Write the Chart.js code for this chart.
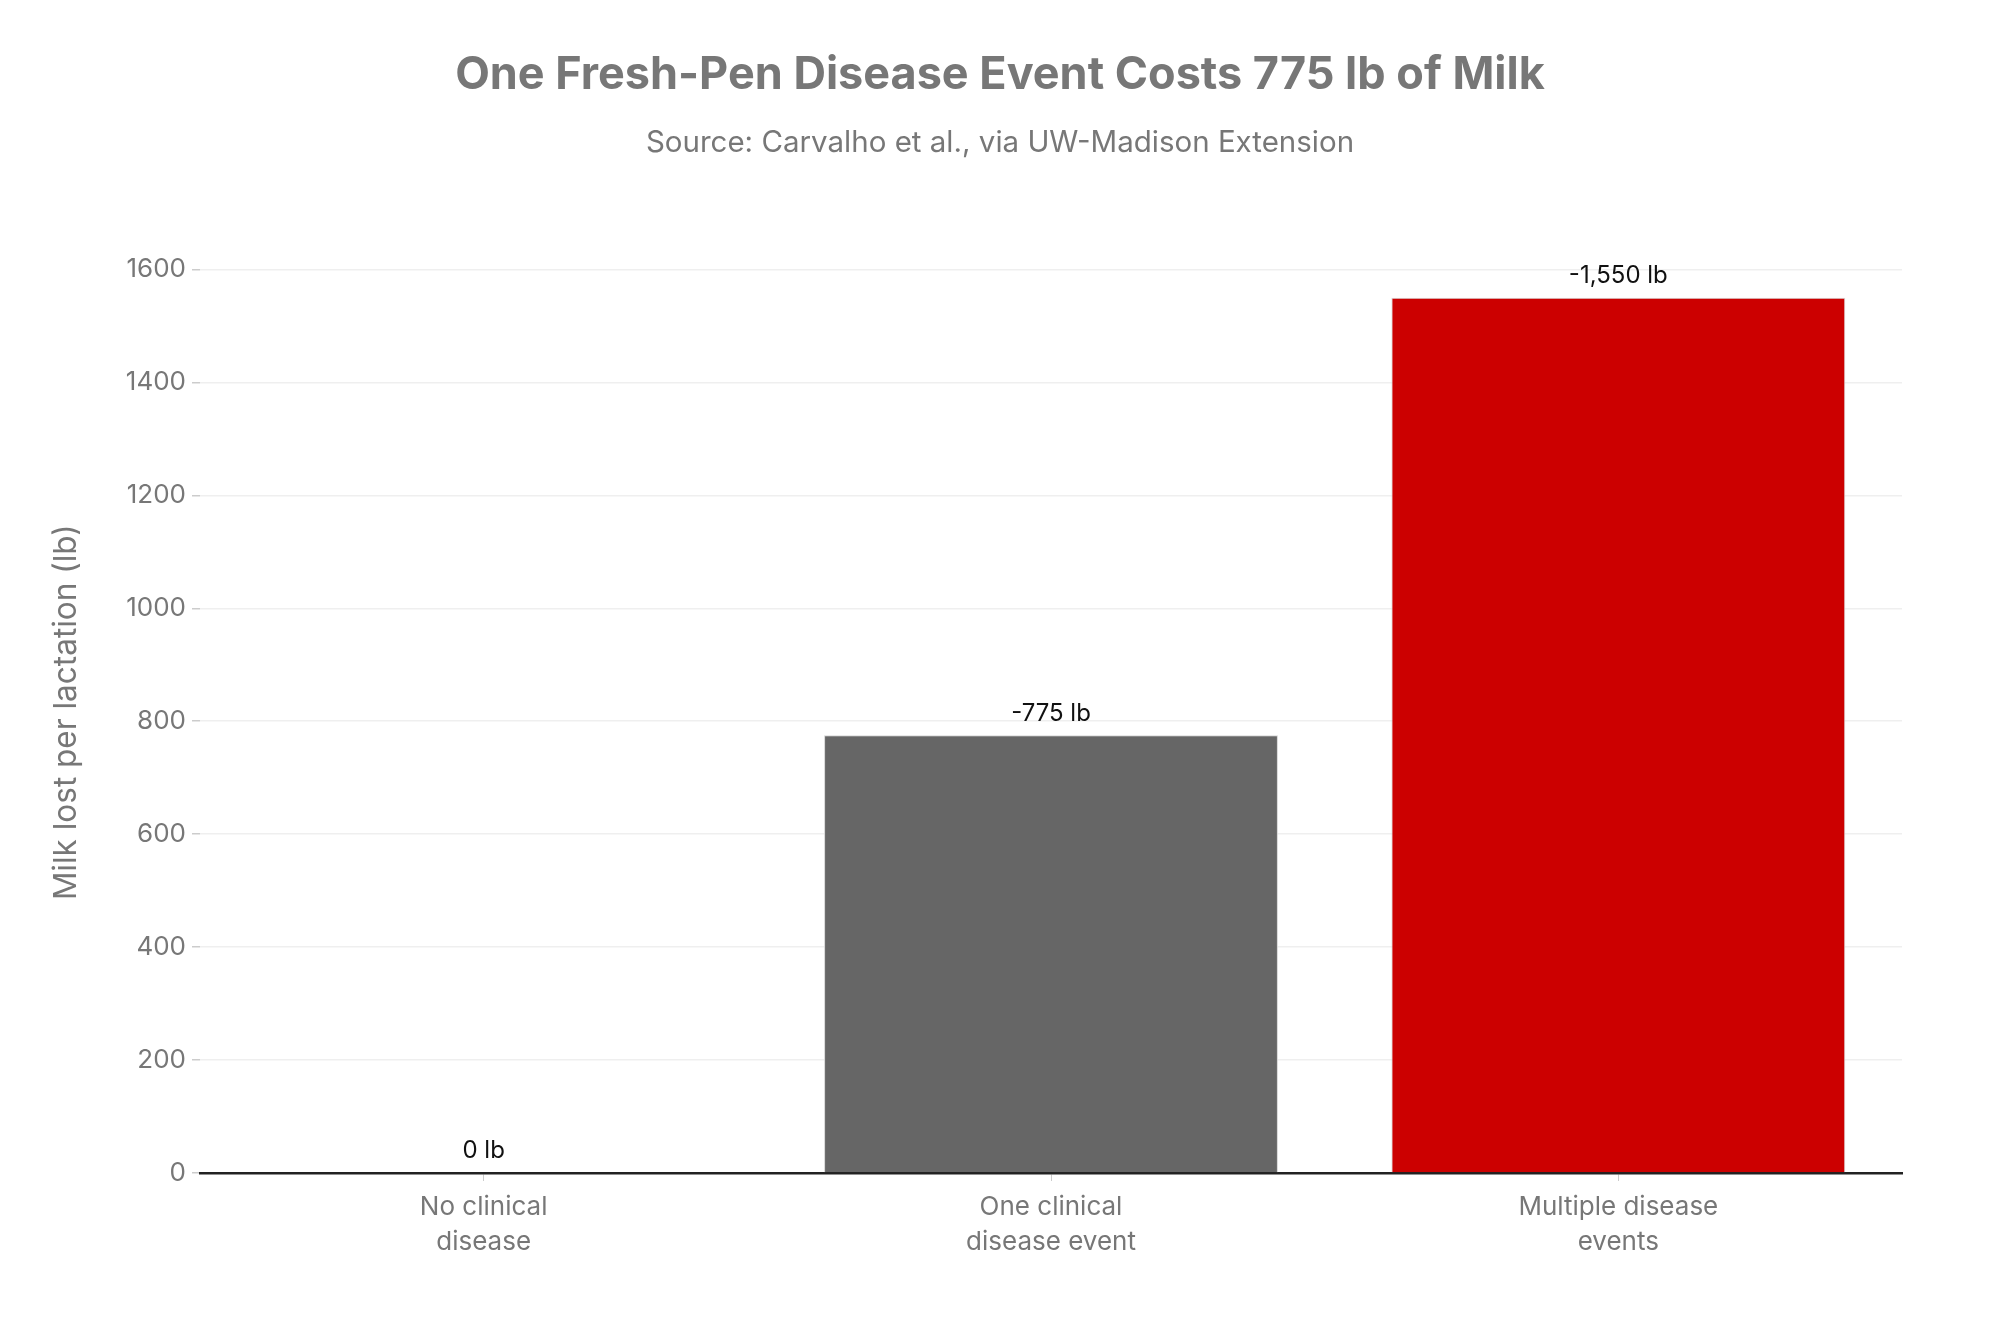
<!DOCTYPE html>
<html>
<head>
<meta charset="utf-8">
<script src="https://cdn.jsdelivr.net/npm/chart.js@4"></script>
<style>
  html, body { margin: 0; padding: 0; background: #fff; }
  #wrap { width: 2000px; height: 1333px; }
</style>
</head>
<body>
<div id="wrap"><canvas id="milk"></canvas></div>
<script>
// values
const categories = [['No clinical', 'disease'], ['One clinical', 'disease event'], ['Multiple disease', 'events']];
const milkLost = [0, 775, 1550];
const barColors = ['#999999', '#666666', '#cc0000'];
const yTicks = [0, 200, 400, 600, 800, 1000, 1200, 1400, 1600];
const yMax = 1632;

const GREY = '#777777';
const FONT = 'Inter, "Liberation Sans", Arial, sans-serif';

// draws "-775 lb" style labels above each bar
const valueLabels = {
  id: 'valueLabels',
  afterDatasetsDraw(chart) {
    const ctx = chart.ctx;
    const meta = chart.getDatasetMeta(0);
    ctx.save();
    ctx.font = '24px ' + FONT;
    ctx.fillStyle = '#111111';
    ctx.textAlign = 'center';
    ctx.textBaseline = 'middle';
    meta.data.forEach((bar, i) => {
      const v = milkLost[i];
      const txt = (v === 0 ? '' : '-') + v.toLocaleString('en-US') + ' lb';
      ctx.fillText(txt, bar.x, bar.y - 22);
    });
    ctx.restore();
  }
};

const cfg = {
  type: 'bar',
  data: {
    labels: categories,
    datasets: [{
      data: milkLost,
      backgroundColor: barColors,
      borderColor: '#d6d6d6',
      borderWidth: 1,
      barPercentage: 0.8,
      categoryPercentage: 1.0
    }]
  },
  options: {
    responsive: true,
    maintainAspectRatio: false,
    animation: false,
    // symmetric so the title stays centred on the page
    layout: { padding: { left: 98, right: 98, top: 0, bottom: 0 } },
    plugins: {
      legend: { display: false },
      tooltip: { enabled: false },
      title: {
        display: true,
        text: 'One Fresh-Pen Disease Event Costs 775 lb of Milk',
        color: GREY,
        font: { family: FONT, size: 45, weight: '700', lineHeight: 1.2 },
        padding: { top: 48, bottom: 23 }
      },
      subtitle: {
        display: true,
        text: 'Source: Carvalho et al., via UW-Madison Extension',
        color: GREY,
        font: { family: FONT, size: 29.5, lineHeight: 1.2 },
        padding: { top: 0, bottom: 91 }
      }
    },
    scales: {
      x: {
        grid: {
          offset: false,
          drawOnChartArea: false,
          drawTicks: true,
          tickLength: 8,
          tickColor: '#cccccc'
        },
        border: { display: true, color: '#222222', width: 2.5 },
        ticks: {
          color: GREY,
          padding: 9,
          font: { family: FONT, size: 26, lineHeight: 1.35 }
        },
        afterFit(scale) { scale.height = 160; }
      },
      y: {
        min: 0,
        max: yMax,
        afterBuildTicks(scale) { scale.ticks = yTicks.map(v => ({ value: v })); },
        grid: {
          color: '#efefef',
          lineWidth: 1.5,
          tickLength: 8,
          tickColor: '#cccccc'
        },
        border: { display: false },
        ticks: {
          color: GREY,
          padding: 6,
          font: { family: FONT, size: 26 },
          callback: v => String(v)
        },
        title: {
          display: true,
          text: 'Milk lost per lactation (lb)',
          color: GREY,
          font: { family: FONT, size: 31.5, lineHeight: 1.2 },
          // pulls the title left of the padded area
          padding: { top: -50, bottom: 0 }
        },
        afterFit(scale) { scale.width = 102; }
      }
    }
  },
  plugins: [valueLabels]
};

window.milkChart = new Chart(document.getElementById('milk'), cfg);
</script>
</body>
</html>
